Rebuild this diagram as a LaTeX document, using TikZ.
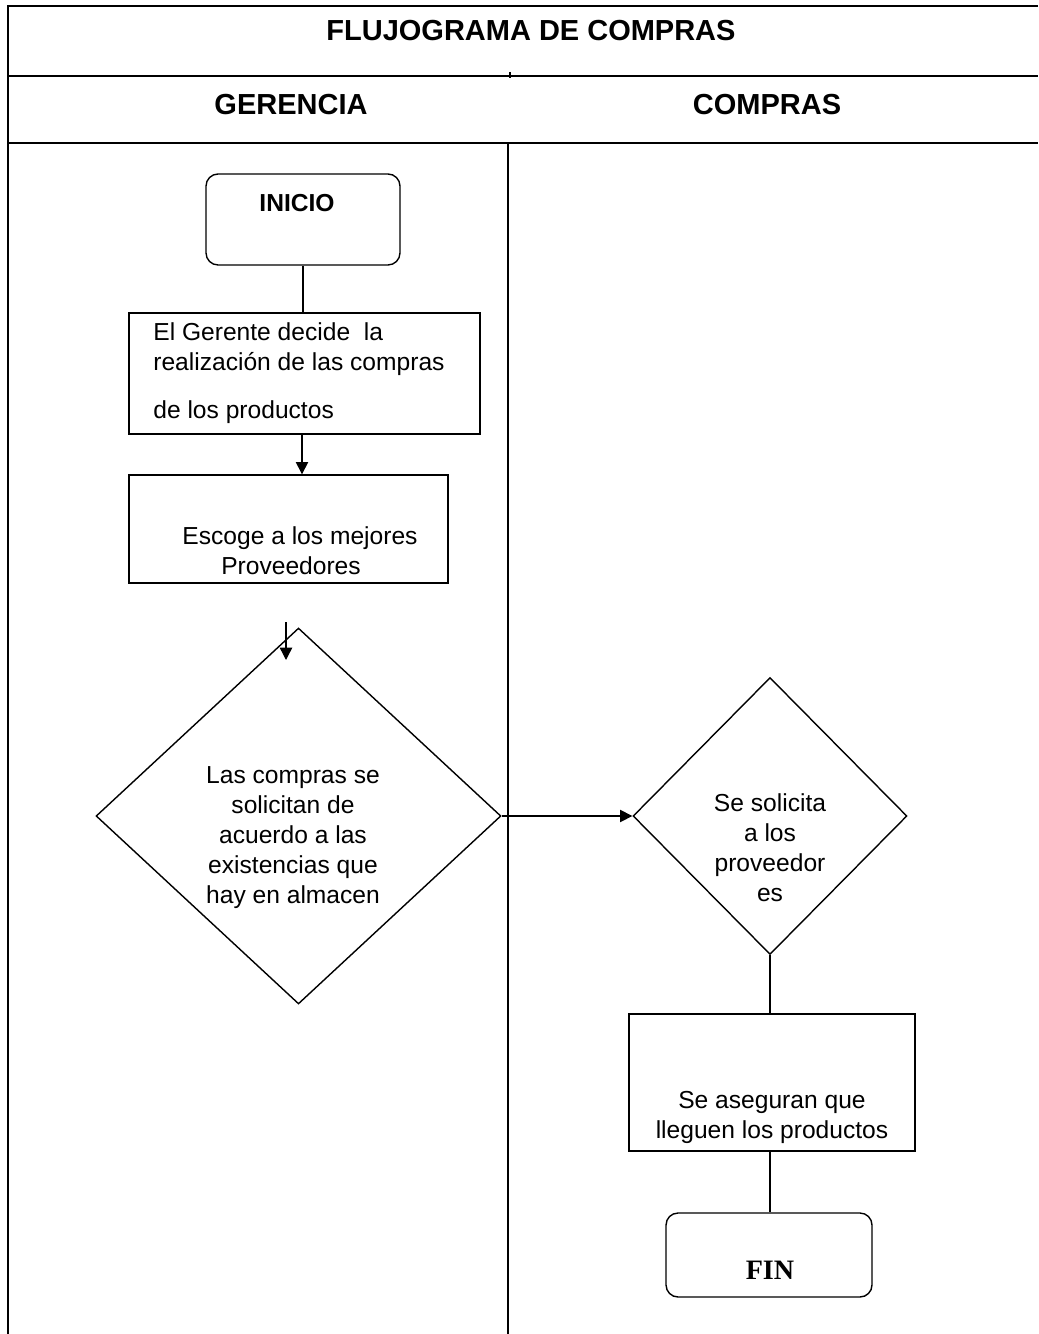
\documentclass[tikz,border=0pt]{standalone}
\usepackage{fontspec}
\setmainfont{Liberation Sans}
\newfontfamily\serifa{Liberation Serif}
\usetikzlibrary{shapes.geometric,arrows.meta}
\tikzset{
  marco/.style={line width=1pt},
  proceso/.style={draw,line width=0.8pt,rectangle,inner sep=0pt},
  terminal/.style={draw,line width=0.8pt,rectangle,rounded corners=0.24cm,inner sep=0pt},
  decision/.style={draw,line width=0.8pt,diamond,inner sep=0pt},
  texto/.style={font=\fontsize{14}{17}\selectfont,align=center,inner sep=0pt},
  titulo/.style={font=\fontsize{16.5}{19}\selectfont\bfseries,inner sep=0pt},
  linea/.style={line width=0.8pt},
  flecha/.style={line width=0.8pt,-{Triangle[length=7pt,width=7pt]}}
}
\begin{document}
\begin{tikzpicture}[x=0.02cm,y=-0.02cm]
            \useasboundingbox (0,0) rectangle (1038,1334);
            \draw[marco] (1038,6) -- (8,6) -- (8,1334);
            \draw[marco] (8,76) -- (1038,76);
            \draw[marco] (8,143) -- (1038,143);
            \draw[marco] (508,143) -- (508,1334);
            \draw[linea] (510,72) -- (510,78);
            \node[titulo] (titulo) at (531,31) {FLUJOGRAMA DE COMPRAS};
            \node[titulo] (gerencia) at (291,105) {GERENCIA};
            \node[titulo] (compras) at (767,105) {COMPRAS};
            \node[terminal,minimum width=3.88cm,minimum height=1.82cm] (inicio) at (303,219.5) {};
            \node[proceso,minimum width=7.02cm,minimum height=2.42cm] (decide) at (304.5,373.5) {};
            \node[proceso,minimum width=6.38cm,minimum height=2.16cm] (escoge) at (288.5,529) {};
            \node[decision,minimum width=8.1cm,minimum height=7.52cm] (existencias) at (298.5,816) {};
            \node[decision,minimum width=5.48cm,minimum height=5.54cm] (solicita) at (770,816) {};
            \node[proceso,minimum width=5.72cm,minimum height=2.74cm] (asegura) at (772,1082.5) {};
            \node[terminal,minimum width=4.12cm,minimum height=1.68cm] (fin) at (769,1255) {};
            \node[texto,font=\fontsize{14}{17}\selectfont\bfseries] (tinicio) at (297,203) {INICIO};
            \node[texto,align=left,anchor=west] (tdecide) at (153,373) {El Gerente decide\ \ la\\realización de las compras\\[10pt]de los productos};
            \node[texto] (tescoge) at (300,550.5) {Escoge a los mejores\\Proveedores\hspace*{0.36cm}};
            \node[texto] (texistencias) at (293,837.5) {Las compras se\\solicitan de\\acuerdo a las\\existencias que\\hay en almacen};
            \node[texto] (tsolicita) at (770,848) {Se solicita\\a los\\proveedor\\es};
            \node[texto] (tasegura) at (772,1117.5) {Se aseguran que\\lleguen los productos};
            \node[texto,font=\fontsize{16}{19}\serifa\bfseries] (tfin) at (770,1270) {FIN};
            \coordinate (libre) at (286,622);
            \coordinate (punta) at (286,660);
            \draw[linea] (inicio.south) -- (inicio.south |- decide.north);
            \draw[flecha] (decide.south -| 302,0) -- (escoge.north -| 302,0);
            \draw[flecha] (libre) -- (punta);
            \draw[flecha] (existencias.east) -- (solicita.west);
            \draw[linea] (solicita.south) -- (solicita.south |- asegura.north);
            \draw[linea] (asegura.south -| solicita.south) -- (solicita.south |- fin.north);
        \end{tikzpicture}
\end{document}
